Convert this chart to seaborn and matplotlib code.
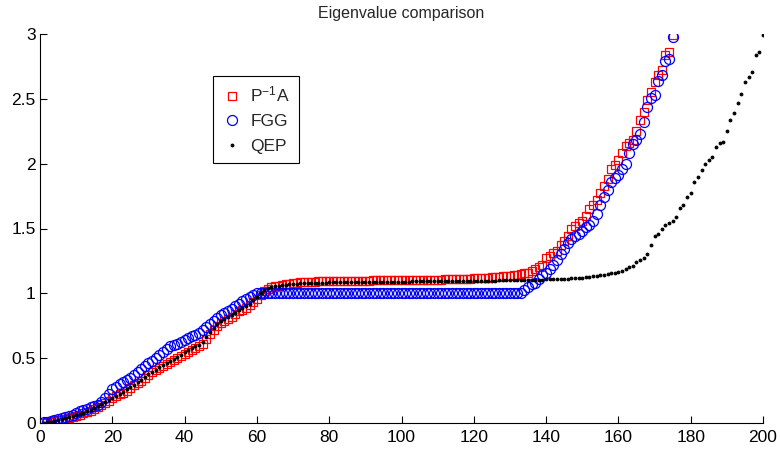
import matplotlib
matplotlib.use("Agg")
import matplotlib.pyplot as plt
import seaborn as sns
import numpy as np

title = "Eigenvalue comparison"
labels = [r"$\mathregular{P^{-1}A}$", "FGG", "QEP"]
xticks = [0, 20, 40, 60, 80, 100, 120, 140, 160, 180, 200]
yticks = [0, 0.5, 1, 1.5, 2, 2.5, 3]
yticklabels = ["0", "0.5", "1", "1.5", "2", "2.5", "3"]

pinv_a = [
    0.00, 0.005, 0.01, 0.015, 0.02, 0.025, 0.03, 0.04, 0.05, 0.055,
    0.065, 0.075, 0.085, 0.095, 0.11, 0.125, 0.14, 0.155, 0.17, 0.19,
    0.205, 0.22, 0.235, 0.25, 0.27, 0.29, 0.305, 0.325, 0.345, 0.37,
    0.39, 0.41, 0.425, 0.44, 0.455, 0.47, 0.485, 0.50, 0.515, 0.53,
    0.545, 0.56, 0.575, 0.59, 0.61, 0.65, 0.69, 0.72, 0.75, 0.77,
    0.79, 0.805, 0.82, 0.84, 0.86, 0.875, 0.89, 0.91, 0.935, 0.96,
    0.99, 1.02, 1.035, 1.045, 1.055, 1.06, 1.065, 1.07, 1.075, 1.08,
    1.082, 1.084, 1.086, 1.088, 1.09, 1.091, 1.092, 1.093, 1.094, 1.095,
    1.095, 1.095, 1.096, 1.096, 1.096, 1.097, 1.097, 1.097, 1.098, 1.098,
    1.098, 1.099, 1.099, 1.099, 1.100, 1.100, 1.100, 1.101, 1.101, 1.101,
    1.102, 1.102, 1.102, 1.103, 1.103, 1.104, 1.104, 1.105, 1.105, 1.106,
    1.106, 1.107, 1.108, 1.108, 1.109, 1.110, 1.111, 1.112, 1.113, 1.115,
    1.116, 1.118, 1.119, 1.121, 1.123, 1.125, 1.128, 1.131, 1.134, 1.137,
    1.141, 1.145, 1.15, 1.155, 1.16, 1.17, 1.19, 1.205, 1.22, 1.27,
    1.29, 1.31, 1.33, 1.37, 1.40, 1.44, 1.50, 1.52, 1.54, 1.56,
    1.60, 1.65, 1.68, 1.72, 1.77, 1.83, 1.88, 1.96, 1.99, 2.03,
    2.08, 2.14, 2.16, 2.18, 2.25, 2.34, 2.395, 2.49, 2.555, 2.63,
    2.68, 2.72, 2.84, 2.86, 2.99,
]

fgg = [
    0.005, 0.01, 0.015, 0.02, 0.03, 0.035, 0.045, 0.055, 0.065, 0.08,
    0.09, 0.10, 0.11, 0.12, 0.13, 0.14, 0.16, 0.19, 0.22, 0.26,
    0.28, 0.30, 0.315, 0.33, 0.35, 0.37, 0.395, 0.42, 0.44, 0.46,
    0.48, 0.50, 0.525, 0.55, 0.57, 0.59, 0.60, 0.61, 0.625, 0.64,
    0.655, 0.67, 0.68, 0.695, 0.715, 0.74, 0.765, 0.79, 0.81, 0.83,
    0.845, 0.86, 0.88, 0.90, 0.92, 0.94, 0.96, 0.975, 0.99, 1.0,
    1.0, 1.0, 1.0, 1.0, 1.0, 1.0, 1.0, 1.0, 1.0, 1.0,
    1.0, 1.0, 1.0, 1.0, 1.0, 1.0, 1.0, 1.0, 1.0, 1.0,
    1.0, 1.0, 1.0, 1.0, 1.0, 1.0, 1.0, 1.0, 1.0, 1.0,
    1.0, 1.0, 1.0, 1.0, 1.0, 1.0, 1.0, 1.0, 1.0, 1.0,
    1.0, 1.0, 1.0, 1.0, 1.0, 1.0, 1.0, 1.0, 1.0, 1.0,
    1.0, 1.0, 1.0, 1.0, 1.0, 1.0, 1.0, 1.0, 1.0, 1.0,
    1.0, 1.0, 1.0, 1.0, 1.0, 1.0, 1.0, 1.0, 1.0, 1.0,
    1.0, 1.0, 1.0,
    1.025, 1.05, 1.07, 1.08, 1.11, 1.14, 1.16, 1.19, 1.22, 1.26,
    1.30, 1.34, 1.39, 1.42, 1.44, 1.46, 1.48, 1.51, 1.53, 1.56,
    1.61, 1.68, 1.745, 1.80, 1.86, 1.89, 1.91, 1.96, 2.00, 2.08,
    2.15, 2.18, 2.23, 2.32, 2.44, 2.51, 2.53, 2.64, 2.68, 2.79,
    2.81, 2.98,
]

qep = [
    0.0, 0.005, 0.01, 0.015, 0.02, 0.03, 0.035, 0.045, 0.055, 0.06,
    0.07, 0.08, 0.09, 0.10, 0.115, 0.13, 0.145, 0.16, 0.175, 0.195,
    0.21, 0.225, 0.24, 0.26, 0.28, 0.295, 0.315, 0.335, 0.355, 0.375,
    0.395, 0.41, 0.43, 0.445, 0.46, 0.48, 0.495, 0.51, 0.525, 0.545,
    0.56, 0.575, 0.59, 0.605, 0.625, 0.66, 0.70, 0.73, 0.76, 0.785,
    0.80, 0.815, 0.83, 0.85, 0.87, 0.885, 0.90, 0.92, 0.945, 0.97,
    1.0, 1.025, 1.04, 1.05, 1.055, 1.06, 1.063, 1.066, 1.069, 1.072,
    1.074, 1.076, 1.077, 1.078, 1.079, 1.080, 1.081, 1.082, 1.083, 1.084,
    1.084, 1.085, 1.085, 1.086, 1.086, 1.087, 1.087, 1.087, 1.088, 1.088,
    1.088, 1.089, 1.089, 1.089, 1.090, 1.090, 1.090, 1.090, 1.091, 1.091,
    1.091, 1.091, 1.092, 1.092, 1.092, 1.092, 1.093, 1.093, 1.093, 1.093,
    1.094, 1.094, 1.094, 1.094, 1.095, 1.095, 1.095, 1.096, 1.096, 1.096,
    1.097, 1.097, 1.097, 1.098, 1.098, 1.098, 1.099, 1.099, 1.100, 1.100,
    1.101, 1.101, 1.102, 1.102, 1.103, 1.103, 1.104, 1.105, 1.106, 1.107,
    1.108, 1.109, 1.110, 1.111, 1.112, 1.114, 1.116, 1.118, 1.120, 1.122,
    1.125, 1.128, 1.131, 1.135, 1.14, 1.145, 1.15, 1.155, 1.16, 1.165,
    1.175, 1.185, 1.20, 1.21, 1.245, 1.26, 1.27, 1.305, 1.37, 1.44,
    1.46, 1.50, 1.53, 1.545, 1.555, 1.59, 1.66, 1.68, 1.74, 1.77,
    1.86, 1.90, 1.95, 2.00, 2.03, 2.05, 2.13, 2.16, 2.17, 2.25,
    2.34, 2.39, 2.47, 2.54, 2.63, 2.67, 2.71, 2.84, 2.86, 2.99,
]

sns.set_style("ticks")
plt.rcParams["font.family"] = ["Liberation Sans", "DejaVu Sans"]
plt.rcParams["mathtext.fontset"] = "custom"
plt.rcParams["mathtext.rm"] = "Liberation Sans"

fig = plt.figure(figsize=(7.8, 4.54), dpi=100)
ax = fig.add_axes([40 / 780, 1 - 423 / 454, 723 / 780, 389 / 454])

idx_a = np.arange(1, len(pinv_a) + 1)
idx_f = np.arange(1, len(fgg) + 1)
idx_q = np.arange(1, len(qep) + 1)

sns.lineplot(x=idx_a, y=pinv_a, ax=ax, estimator=None, sort=False,
             linestyle="none", marker="s", markersize=6.2, markerfacecolor="none",
             markeredgecolor="#ff0000", markeredgewidth=0.9, color="#ff0000",
             label=labels[0])
sns.lineplot(x=idx_f, y=fgg, ax=ax, estimator=None, sort=False,
             linestyle="none", marker="o", markersize=7.2, markerfacecolor="none",
             markeredgecolor="#0000ff", markeredgewidth=0.9, color="#0000ff",
             label=labels[1])
sns.lineplot(x=idx_q, y=qep, ax=ax, estimator=None, sort=False,
             linestyle="none", marker=".", markersize=4.0, markerfacecolor="black",
             markeredgecolor="black", color="black", label=labels[2])

ax.set_xlim(0, 200)
ax.set_ylim(0, 3)
ax.set_xticks(xticks)
ax.set_yticks(yticks)
ax.set_yticklabels(yticklabels)
ax.tick_params(direction="in", length=5, width=0.8, labelsize=12.5, colors="black")
ax.tick_params(axis="x", pad=5)
ax.tick_params(axis="y", pad=3)
for side in ["top", "right"]:
    ax.spines[side].set_visible(False)
for side in ["left", "bottom"]:
    ax.spines[side].set_color("black")
    ax.spines[side].set_linewidth(0.8)
ax.set_title(title, fontsize=11.5, pad=11.5)
ax.set_xlabel("")
ax.set_ylabel("")

leg = ax.legend(loc="upper left", bbox_to_anchor=((213 - 40) / 723, (423 - 76) / 389),
                borderaxespad=0, frameon=True, fancybox=False, fontsize=12.5,
                handlelength=1.2, handletextpad=0.45, labelspacing=0.55,
                borderpad=0.5)
leg.get_frame().set_edgecolor("black")
leg.get_frame().set_linewidth(0.8)
leg.get_frame().set_alpha(1)

fig.savefig("out.png", dpi=100)
